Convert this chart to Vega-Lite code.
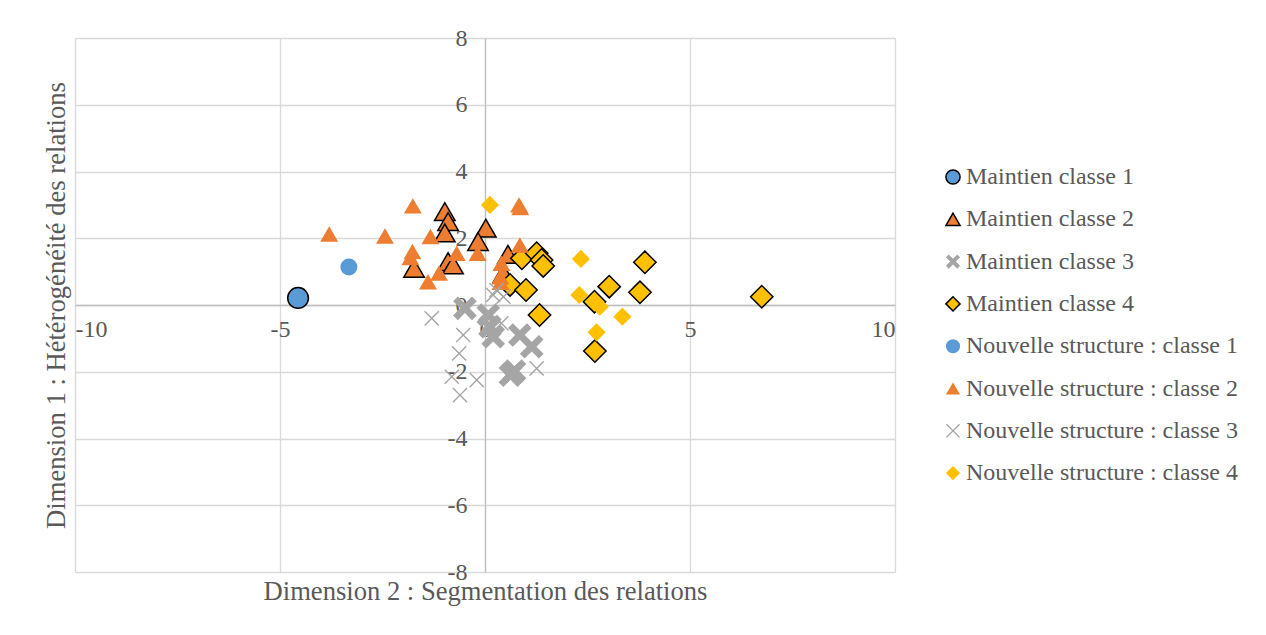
{
  "$schema": "https://vega.github.io/schema/vega-lite/v6.json",
  "autosize": {"type": "none"},
  "padding": {"left": 75, "top": 38, "right": 371, "bottom": 63},
  "width": 820,
  "height": 534,
  "background": "white",
  "config": {
    "view": {"stroke": null},
    "font": "Liberation Serif",
    "axis": {
      "labelFont": "Liberation Serif",
      "labelFontSize": 24,
      "labelColor": "#595959",
      "titleFont": "Liberation Serif",
      "titleFontSize": 26.6,
      "titleFontWeight": "normal",
      "titleColor": "#595959",
      "gridColor": "#D9D9D9",
      "gridWidth": 1.3,
      "domainColor": "#BFBFBF",
      "domainWidth": 1.3,
      "ticks": false,
      "tickSize": 0,
      "labelExpr": "toString(datum.value)"
    },
    "legend": {
      "labelFont": "Liberation Serif",
      "labelFontSize": 24,
      "labelColor": "#595959",
      "labelLimit": 400,
      "symbolSize": 200,
      "symbolStrokeWidth": 1.5,
      "rowPadding": 18.3,
      "padding": 0,
      "labelOffset": 1
    }
  },
  "data": {
    "values": [
      {"x": -4.56, "y": 0.21, "s": "Maintien classe 1"},
      {"x": -0.98, "y": 2.8, "s": "Maintien classe 2"},
      {"x": -0.9, "y": 2.5, "s": "Maintien classe 2"},
      {"x": -0.98, "y": 2.16, "s": "Maintien classe 2"},
      {"x": 0.02, "y": 2.3, "s": "Maintien classe 2"},
      {"x": -0.17, "y": 1.9, "s": "Maintien classe 2"},
      {"x": -1.73, "y": 1.1, "s": "Maintien classe 2"},
      {"x": -0.9, "y": 1.3, "s": "Maintien classe 2"},
      {"x": -0.78, "y": 1.2, "s": "Maintien classe 2"},
      {"x": 0.56, "y": 1.52, "s": "Maintien classe 2"},
      {"x": 0.45, "y": 0.95, "s": "Maintien classe 2"},
      {"x": -0.49, "y": -0.1, "s": "Maintien classe 3"},
      {"x": 0.08, "y": -0.3, "s": "Maintien classe 3"},
      {"x": 0.12, "y": -0.65, "s": "Maintien classe 3"},
      {"x": 0.2, "y": -0.95, "s": "Maintien classe 3"},
      {"x": 0.85, "y": -0.9, "s": "Maintien classe 3"},
      {"x": 1.14, "y": -1.25, "s": "Maintien classe 3"},
      {"x": 0.62, "y": -2.1, "s": "Maintien classe 3"},
      {"x": 0.72, "y": -1.98, "s": "Maintien classe 3"},
      {"x": 0.9, "y": 1.4, "s": "Maintien classe 4"},
      {"x": 1.26, "y": 1.55, "s": "Maintien classe 4"},
      {"x": 1.38, "y": 1.35, "s": "Maintien classe 4"},
      {"x": 1.42, "y": 1.17, "s": "Maintien classe 4"},
      {"x": 0.61, "y": 0.6, "s": "Maintien classe 4"},
      {"x": 1.0, "y": 0.45, "s": "Maintien classe 4"},
      {"x": 1.33, "y": -0.3, "s": "Maintien classe 4"},
      {"x": 2.67, "y": 0.1, "s": "Maintien classe 4"},
      {"x": 3.03, "y": 0.55, "s": "Maintien classe 4"},
      {"x": 3.9, "y": 1.28, "s": "Maintien classe 4"},
      {"x": 3.78, "y": 0.38, "s": "Maintien classe 4"},
      {"x": 2.68, "y": -1.38, "s": "Maintien classe 4"},
      {"x": 6.75, "y": 0.25, "s": "Maintien classe 4"},
      {"x": -3.32, "y": 1.14, "s": "Nouvelle structure : classe 1"},
      {"x": -3.8, "y": 2.13, "s": "Nouvelle structure : classe 2"},
      {"x": -2.44, "y": 2.07, "s": "Nouvelle structure : classe 2"},
      {"x": -1.76, "y": 2.97, "s": "Nouvelle structure : classe 2"},
      {"x": -1.33, "y": 2.05, "s": "Nouvelle structure : classe 2"},
      {"x": -0.18, "y": 1.55, "s": "Nouvelle structure : classe 2"},
      {"x": -1.77, "y": 1.6, "s": "Nouvelle structure : classe 2"},
      {"x": -1.82, "y": 1.42, "s": "Nouvelle structure : classe 2"},
      {"x": -0.69, "y": 1.55, "s": "Nouvelle structure : classe 2"},
      {"x": -1.12, "y": 0.96, "s": "Nouvelle structure : classe 2"},
      {"x": -1.39, "y": 0.7, "s": "Nouvelle structure : classe 2"},
      {"x": 0.83, "y": 3.0, "s": "Nouvelle structure : classe 2"},
      {"x": 0.86, "y": 2.92, "s": "Nouvelle structure : classe 2"},
      {"x": 0.85, "y": 1.8, "s": "Nouvelle structure : classe 2"},
      {"x": 0.4, "y": 1.25, "s": "Nouvelle structure : classe 2"},
      {"x": 0.37, "y": 0.85, "s": "Nouvelle structure : classe 2"},
      {"x": 0.38, "y": 0.68, "s": "Nouvelle structure : classe 2"},
      {"x": -1.3, "y": -0.4, "s": "Nouvelle structure : classe 3"},
      {"x": -0.53, "y": -0.9, "s": "Nouvelle structure : classe 3"},
      {"x": -0.63, "y": -1.45, "s": "Nouvelle structure : classe 3"},
      {"x": -0.81, "y": -2.15, "s": "Nouvelle structure : classe 3"},
      {"x": -0.2, "y": -2.25, "s": "Nouvelle structure : classe 3"},
      {"x": -0.61, "y": -2.7, "s": "Nouvelle structure : classe 3"},
      {"x": 1.26, "y": -1.9, "s": "Nouvelle structure : classe 3"},
      {"x": 0.2, "y": 0.3, "s": "Nouvelle structure : classe 3"},
      {"x": 0.45, "y": 0.25, "s": "Nouvelle structure : classe 3"},
      {"x": 0.28, "y": 0.45, "s": "Nouvelle structure : classe 3"},
      {"x": 0.4, "y": -0.55, "s": "Nouvelle structure : classe 3"},
      {"x": 0.12, "y": 3.0, "s": "Nouvelle structure : classe 4"},
      {"x": 2.34, "y": 1.38, "s": "Nouvelle structure : classe 4"},
      {"x": 2.3, "y": 0.3, "s": "Nouvelle structure : classe 4"},
      {"x": 2.8, "y": -0.05, "s": "Nouvelle structure : classe 4"},
      {"x": 3.35, "y": -0.35, "s": "Nouvelle structure : classe 4"},
      {"x": 2.72, "y": -0.82, "s": "Nouvelle structure : classe 4"}
    ]
  },
  "mark": {"type": "point", "filled": true, "opacity": 1, "strokeWidth": 1.5},
  "encoding": {
    "x": {
      "field": "x", "type": "quantitative",
      "scale": {"domain": [-10, 10], "nice": false, "zero": false},
      "axis": {
        "values": [-10, -5, 0, 5, 10],
        "offset": -267,
        "labelPadding": 12,
        "title": "Dimension 2 : Segmentation des relations",
        "titleX": 410, "titleY": 294, "titleBaseline": "alphabetic"
      }
    },
    "y": {
      "field": "y", "type": "quantitative",
      "scale": {"domain": [-8, 8], "nice": false, "zero": false},
      "axis": {
        "values": [-8, -6, -4, -2, 0, 2, 4, 6, 8],
        "offset": -410,
        "labelPadding": 18,
        "title": "Dimension 1 : Hétérogénéité des relations",
        "titleX": -421, "titleY": 267, "titleBaseline": "alphabetic", "titleAngle": -90
      }
    },
    "shape": {
      "field": "s", "type": "nominal",
      "scale": {
        "domain": ["Maintien classe 1", "Maintien classe 2", "Maintien classe 3", "Maintien classe 4", "Nouvelle structure : classe 1", "Nouvelle structure : classe 2", "Nouvelle structure : classe 3", "Nouvelle structure : classe 4"],
        "range": ["circle", "triangle-up", "M-0.6,-1L0,-0.4L0.6,-1L1,-0.6L0.4,0L1,0.6L0.6,1L0,0.4L-0.6,1L-1,0.6L-0.4,0L-1,-0.6Z", "diamond", "circle", "triangle-up", "M-0.87,-1L0,-0.13L0.87,-1L1,-0.87L0.13,0L1,0.87L0.87,1L0,0.13L-0.87,1L-1,0.87L-0.13,0L-1,-0.87Z", "diamond"]
      },
      "legend": {"title": null, "orient": "none", "legendX": 866, "legendY": 127}
    },
    "fill": {
      "field": "s", "type": "nominal",
      "scale": {
        "domain": ["Maintien classe 1", "Maintien classe 2", "Maintien classe 3", "Maintien classe 4", "Nouvelle structure : classe 1", "Nouvelle structure : classe 2", "Nouvelle structure : classe 3", "Nouvelle structure : classe 4"],
        "range": ["#5B9BD5", "#ED7D31", "#A5A5A5", "#FFC000", "#5B9BD5", "#ED7D31", "#A5A5A5", "#FFC000"]
      },
      "legend": {"title": null, "orient": "none", "legendX": 866, "legendY": 127}
    },
    "stroke": {
      "field": "s", "type": "nominal",
      "scale": {
        "domain": ["Maintien classe 1", "Maintien classe 2", "Maintien classe 3", "Maintien classe 4", "Nouvelle structure : classe 1", "Nouvelle structure : classe 2", "Nouvelle structure : classe 3", "Nouvelle structure : classe 4"],
        "range": ["#000000", "#000000", "transparent", "#000000", "transparent", "transparent", "transparent", "transparent"]
      },
      "legend": {"title": null, "orient": "none", "legendX": 866, "legendY": 127}
    },
    "size": {
      "field": "s", "type": "nominal",
      "scale": {
        "type": "ordinal",
        "domain": ["Nouvelle structure : classe 4", "Nouvelle structure : classe 3", "Nouvelle structure : classe 2", "Nouvelle structure : classe 1", "Maintien classe 4", "Maintien classe 3", "Maintien classe 2", "Maintien classe 1"],
        "range": [330, 230, 320, 290, 500, 560, 420, 430]
      },
      "legend": null
    }
  }
}
